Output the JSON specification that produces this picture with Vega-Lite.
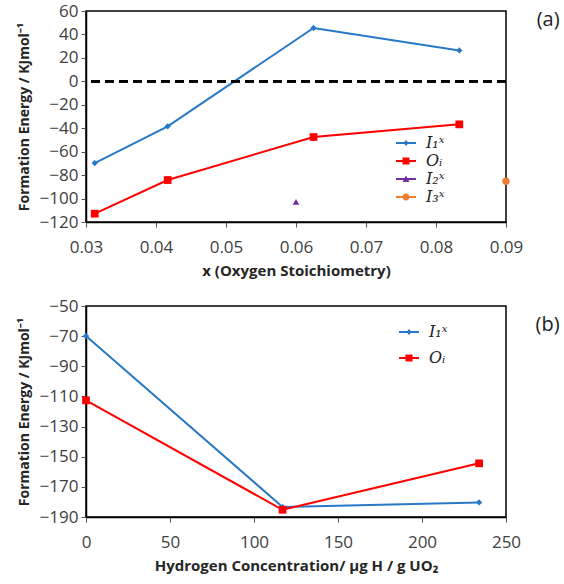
{
  "$schema": "https://vega.github.io/schema/vega-lite/v6.json",
  "background": "white",
  "padding": {"left": 16, "top": 1, "right": 2, "bottom": 2},
  "spacing": 17,
  "config": {
    "view": {"stroke": "#000", "strokeWidth": 1.5},
    "axis": {"labelFont": "Open Sans", "labelFontSize": 17, "labelColor": "#404040", "titleFont": "Open Sans", "titleFontSize": 14, "titleFontWeight": "bold", "titleColor": "#262626", "domainColor": "#000", "domainWidth": 1.5, "tickColor": "#555", "tickSize": 5, "grid": false, "labelPadding": 3, "labelOverlap": false, "labelFlush": false},
    "axisY": {"titlePadding": 8},
    "axisX": {"labelPadding": 12, "titlePadding": 8, "titleFontSize": 15},
    "title": {"font": "Open Sans", "fontSize": 20, "fontWeight": "normal", "color": "#222"},
    "legend": {"labelFont": "DejaVu Serif", "labelFontStyle": "italic", "labelFontSize": 16, "labelColor": "#222", "symbolStrokeWidth": 0, "symbolSize": 100, "symbolOpacity": 1, "labelOffset": 12, "padding": 0}
  },
  "vconcat": [
    {
      "width": 420,
      "height": 211,
      "title": {"text": "(a)", "orient": "right", "anchor": "start", "angle": 0, "align": "left", "frame": "group", "offset": -9, "dy": -1},
      "data": {"values": [
        {"x": 0.03125, "y": -69.7, "s": "I₁ˣ"},
        {"x": 0.04167, "y": -38.4, "s": "I₁ˣ"},
        {"x": 0.0625, "y": 45.5, "s": "I₁ˣ"},
        {"x": 0.08333, "y": 26.4, "s": "I₁ˣ"},
        {"x": 0.03125, "y": -112.9, "s": "Oᵢ"},
        {"x": 0.04167, "y": -84.2, "s": "Oᵢ"},
        {"x": 0.0625, "y": -47.5, "s": "Oᵢ"},
        {"x": 0.08333, "y": -36.7, "s": "Oᵢ"},
        {"x": 0.06, "y": -102.9, "s": "I₂ˣ"},
        {"x": 0.09, "y": -85.3, "s": "I₃ˣ"}
      ]},
      "layer": [
        {
          "transform": [{"filter": "datum.s === 'I₁ˣ'"}],
          "mark": {"type": "line", "strokeWidth": 2, "color": "#2878c8"},
          "encoding": {
            "x": {"field": "x", "type": "quantitative", "scale": {"domain": [0.03, 0.09], "nice": false, "zero": false}, "axis": {"values": [0.03, 0.04, 0.05, 0.06, 0.07, 0.08, 0.09], "format": ".2f", "title": "x (Oxygen Stoichiometry)"}},
            "y": {"field": "y", "type": "quantitative", "scale": {"domain": [-120, 60], "nice": false, "zero": false}, "axis": {"values": [-120, -100, -80, -60, -40, -20, 0, 20, 40, 60], "title": "Formation Energy / KJmol⁻¹"}}
          }
        },
        {
          "transform": [{"filter": "datum.s === 'Oᵢ'"}],
          "mark": {"type": "line", "strokeWidth": 2, "color": "#ff0000"},
          "encoding": {
            "x": {"field": "x", "type": "quantitative", "scale": {"domain": [0.03, 0.09], "nice": false, "zero": false}, "axis": {"values": [0.03, 0.04, 0.05, 0.06, 0.07, 0.08, 0.09], "format": ".2f", "title": "x (Oxygen Stoichiometry)"}},
            "y": {"field": "y", "type": "quantitative", "scale": {"domain": [-120, 60], "nice": false, "zero": false}, "axis": {"values": [-120, -100, -80, -60, -40, -20, 0, 20, 40, 60], "title": "Formation Energy / KJmol⁻¹"}}
          }
        },
        {
          "mark": {"type": "rule", "color": "#000", "strokeWidth": 2, "strokeDash": [9, 5]},
          "encoding": {"y": {"datum": 0, "type": "quantitative", "scale": {"domain": [-120, 60], "nice": false, "zero": false}, "axis": {"values": [-120, -100, -80, -60, -40, -20, 0, 20, 40, 60], "title": "Formation Energy / KJmol⁻¹"}}}
        },
        {
          "transform": [{"filter": "datum.s === 'I₁ˣ'"}],
          "mark": {"type": "point", "shape": "diamond", "filled": true, "opacity": 1, "size": 40, "color": "#2878c8"},
          "encoding": {
            "x": {"field": "x", "type": "quantitative", "scale": {"domain": [0.03, 0.09], "nice": false, "zero": false}, "axis": {"values": [0.03, 0.04, 0.05, 0.06, 0.07, 0.08, 0.09], "format": ".2f", "title": "x (Oxygen Stoichiometry)"}},
            "y": {"field": "y", "type": "quantitative", "scale": {"domain": [-120, 60], "nice": false, "zero": false}, "axis": {"values": [-120, -100, -80, -60, -40, -20, 0, 20, 40, 60], "title": "Formation Energy / KJmol⁻¹"}}
          }
        },
        {
          "transform": [{"filter": "datum.s === 'Oᵢ'"}],
          "mark": {"type": "point", "shape": "square", "filled": true, "opacity": 1, "size": 60, "color": "#ff0000"},
          "encoding": {
            "x": {"field": "x", "type": "quantitative", "scale": {"domain": [0.03, 0.09], "nice": false, "zero": false}, "axis": {"values": [0.03, 0.04, 0.05, 0.06, 0.07, 0.08, 0.09], "format": ".2f", "title": "x (Oxygen Stoichiometry)"}},
            "y": {"field": "y", "type": "quantitative", "scale": {"domain": [-120, 60], "nice": false, "zero": false}, "axis": {"values": [-120, -100, -80, -60, -40, -20, 0, 20, 40, 60], "title": "Formation Energy / KJmol⁻¹"}}
          }
        },
        {
          "transform": [{"filter": "datum.s === 'I₂ˣ'"}],
          "mark": {"type": "point", "shape": "triangle-up", "filled": true, "opacity": 1, "size": 45, "color": "#7030a0"},
          "encoding": {
            "x": {"field": "x", "type": "quantitative", "scale": {"domain": [0.03, 0.09], "nice": false, "zero": false}, "axis": {"values": [0.03, 0.04, 0.05, 0.06, 0.07, 0.08, 0.09], "format": ".2f", "title": "x (Oxygen Stoichiometry)"}},
            "y": {"field": "y", "type": "quantitative", "scale": {"domain": [-120, 60], "nice": false, "zero": false}, "axis": {"values": [-120, -100, -80, -60, -40, -20, 0, 20, 40, 60], "title": "Formation Energy / KJmol⁻¹"}}
          }
        },
        {
          "transform": [{"filter": "datum.s === 'I₃ˣ'"}],
          "mark": {"type": "point", "shape": "circle", "filled": true, "opacity": 1, "size": 55, "color": "#ed7d31"},
          "encoding": {
            "x": {"field": "x", "type": "quantitative", "scale": {"domain": [0.03, 0.09], "nice": false, "zero": false}, "axis": {"values": [0.03, 0.04, 0.05, 0.06, 0.07, 0.08, 0.09], "format": ".2f", "title": "x (Oxygen Stoichiometry)"}},
            "y": {"field": "y", "type": "quantitative", "scale": {"domain": [-120, 60], "nice": false, "zero": false}, "axis": {"values": [-120, -100, -80, -60, -40, -20, 0, 20, 40, 60], "title": "Formation Energy / KJmol⁻¹"}}
          }
        },
        {
          "transform": [{"filter": "false"}],
          "mark": {"type": "point", "filled": true, "opacity": 1},
          "encoding": {
            "color": {"field": "s", "type": "nominal", "scale": {"domain": ["I₁ˣ", "Oᵢ", "I₂ˣ", "I₃ˣ"], "range": ["#2878c8", "#ff0000", "#7030a0", "#ed7d31"]}, "legend": {"title": null, "orient": "none", "legendX": 312, "legendY": 124, "rowPadding": 2}},
            "shape": {"field": "s", "type": "nominal", "scale": {"domain": ["I₁ˣ", "Oᵢ", "I₂ˣ", "I₃ˣ"], "range": [
              "M-2,-0.2L2,-0.2L2,0.2L-2,0.2Z M0,-0.6L0.5,0L0,0.6L-0.5,0Z",
              "M-2,-0.2L2,-0.2L2,0.2L-2,0.2Z M-0.7,-0.7L0.7,-0.7L0.7,0.7L-0.7,0.7Z",
              "M-2,-0.2L2,-0.2L2,0.2L-2,0.2Z M0,-0.7L0.7,0.6L-0.7,0.6Z",
              "M-2,-0.2L2,-0.2L2,0.2L-2,0.2Z M0.7,0A0.7,0.7 0 1,1 -0.7,0A0.7,0.7 0 1,1 0.7,0Z"
            ]}, "legend": {"title": null, "orient": "none", "legendX": 312, "legendY": 124, "rowPadding": 2}}
          }
        }
      ]
    },
    {
      "width": 420,
      "height": 211,
      "title": {"text": "(b)", "orient": "right", "anchor": "start", "angle": 0, "align": "left", "frame": "group", "offset": -9, "dy": 9},
      "data": {"values": [
        {"x": 0, "y": -69.9, "s": "I₁ˣ"},
        {"x": 117, "y": -183.4, "s": "I₁ˣ"},
        {"x": 234, "y": -180.3, "s": "I₁ˣ"},
        {"x": 0, "y": -112.6, "s": "Oᵢ"},
        {"x": 117, "y": -185.2, "s": "Oᵢ"},
        {"x": 234, "y": -154.4, "s": "Oᵢ"}
      ]},
      "layer": [
        {
          "transform": [{"filter": "datum.s === 'I₁ˣ'"}],
          "mark": {"type": "line", "strokeWidth": 2, "color": "#2878c8"},
          "encoding": {
            "x": {"field": "x", "type": "quantitative", "scale": {"domain": [0, 250], "nice": false}, "axis": {"values": [0, 50, 100, 150, 200, 250], "title": "Hydrogen Concentration/ μg H / g UO₂"}},
            "y": {"field": "y", "type": "quantitative", "scale": {"domain": [-190, -50], "nice": false, "zero": false}, "axis": {"values": [-190, -170, -150, -130, -110, -90, -70, -50], "title": "Formation Energy / KJmol⁻¹"}}
          }
        },
        {
          "transform": [{"filter": "datum.s === 'Oᵢ'"}],
          "mark": {"type": "line", "strokeWidth": 2, "color": "#ff0000"},
          "encoding": {
            "x": {"field": "x", "type": "quantitative", "scale": {"domain": [0, 250], "nice": false}, "axis": {"values": [0, 50, 100, 150, 200, 250], "title": "Hydrogen Concentration/ μg H / g UO₂"}},
            "y": {"field": "y", "type": "quantitative", "scale": {"domain": [-190, -50], "nice": false, "zero": false}, "axis": {"values": [-190, -170, -150, -130, -110, -90, -70, -50], "title": "Formation Energy / KJmol⁻¹"}}
          }
        },
        {
          "transform": [{"filter": "datum.s === 'I₁ˣ'"}],
          "mark": {"type": "point", "shape": "diamond", "filled": true, "opacity": 1, "size": 40, "color": "#2878c8"},
          "encoding": {
            "x": {"field": "x", "type": "quantitative", "scale": {"domain": [0, 250], "nice": false}, "axis": {"values": [0, 50, 100, 150, 200, 250], "title": "Hydrogen Concentration/ μg H / g UO₂"}},
            "y": {"field": "y", "type": "quantitative", "scale": {"domain": [-190, -50], "nice": false, "zero": false}, "axis": {"values": [-190, -170, -150, -130, -110, -90, -70, -50], "title": "Formation Energy / KJmol⁻¹"}}
          }
        },
        {
          "transform": [{"filter": "datum.s === 'Oᵢ'"}],
          "mark": {"type": "point", "shape": "square", "filled": true, "opacity": 1, "size": 60, "color": "#ff0000"},
          "encoding": {
            "x": {"field": "x", "type": "quantitative", "scale": {"domain": [0, 250], "nice": false}, "axis": {"values": [0, 50, 100, 150, 200, 250], "title": "Hydrogen Concentration/ μg H / g UO₂"}},
            "y": {"field": "y", "type": "quantitative", "scale": {"domain": [-190, -50], "nice": false, "zero": false}, "axis": {"values": [-190, -170, -150, -130, -110, -90, -70, -50], "title": "Formation Energy / KJmol⁻¹"}}
          }
        },
        {
          "transform": [{"filter": "false"}],
          "mark": {"type": "point", "filled": true, "opacity": 1},
          "encoding": {
            "color": {"field": "s", "type": "nominal", "scale": {"domain": ["I₁ˣ", "Oᵢ"], "range": ["#2878c8", "#ff0000"]}, "legend": {"title": null, "orient": "none", "legendX": 315, "legendY": 18, "rowPadding": 10}},
            "shape": {"field": "s", "type": "nominal", "scale": {"domain": ["I₁ˣ", "Oᵢ"], "range": [
              "M-2,-0.2L2,-0.2L2,0.2L-2,0.2Z M0,-0.6L0.5,0L0,0.6L-0.5,0Z",
              "M-2,-0.2L2,-0.2L2,0.2L-2,0.2Z M-0.7,-0.7L0.7,-0.7L0.7,0.7L-0.7,0.7Z"
            ]}, "legend": {"title": null, "orient": "none", "legendX": 315, "legendY": 18, "rowPadding": 10}}
          }
        }
      ]
    }
  ],
  "resolve": {"scale": {"x": "independent", "y": "independent", "color": "independent", "shape": "independent"}, "legend": {"color": "independent", "shape": "independent"}}
}
